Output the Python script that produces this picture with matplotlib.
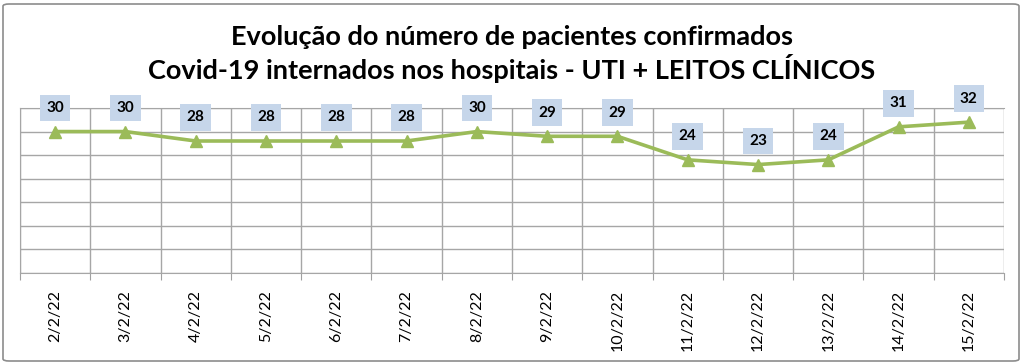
import matplotlib.pyplot as plt
from matplotlib.patches import FancyBboxPatch

# dados
datas = ['2/2/22', '3/2/22', '4/2/22', '5/2/22', '6/2/22', '7/2/22', '8/2/22',
         '9/2/22', '10/2/22', '11/2/22', '12/2/22', '13/2/22', '14/2/22', '15/2/22']
pacientes = [30, 30, 28, 28, 28, 28, 30, 29, 29, 24, 23, 24, 31, 32]

titulo = 'Evolução do número de pacientes confirmados\nCovid-19 internados nos hospitais - UTI + LEITOS CLÍNICOS'

plt.rcParams['font.family'] = ['Lato', 'DejaVu Sans']

fig = plt.figure(figsize=(10.24, 3.64), dpi=100)
ax = fig.add_axes([20 / 1024, 1 - 273 / 364, 984 / 1024, 165 / 364])

# borda arredondada do grafico
borda = FancyBboxPatch((3 / 1024, 3 / 364), 1016 / 1024, 357 / 364,
                       boxstyle='round,pad=0,rounding_size=0.006',
                       transform=fig.transFigure, fill=False,
                       edgecolor='#8c8c8c', linewidth=1.2)
fig.patches.append(borda)

x = list(range(len(datas)))
ax.plot(x, pacientes, color='#9BBB59', linewidth=2.6, marker='^',
        markersize=9, zorder=3, clip_on=False)

for xi, v in zip(x, pacientes):
    ax.annotate(str(v), (xi, v), xytext=(0, 17), textcoords='offset points',
                ha='center', va='center', fontsize=11, fontweight='bold',
                bbox=dict(boxstyle='square,pad=0.42', facecolor='#C6D6EA',
                          edgecolor='none'), zorder=4, annotation_clip=False)

ax.set_xlim(-0.5, len(datas) - 0.5)
ax.set_ylim(0, 35)
ax.set_yticks(range(0, 36, 5))
ax.set_yticklabels([])
ax.tick_params(axis='y', length=0)
ax.set_xticks([i - 0.5 for i in range(len(datas) + 1)], minor=False)
ax.set_xticklabels([])
ax.set_xticks(x, minor=True)
ax.set_xticklabels(datas, minor=True, rotation=90, fontsize=11.5)
ax.tick_params(axis='x', which='major', length=5, color='#a0a0a0')
ax.tick_params(axis='x', which='minor', length=0, pad=12)
ax.grid(True, which='major', color='#a6a6a6', linewidth=1)
for s in ax.spines.values():
    s.set_color('#a6a6a6')
ax.spines['right'].set_visible(False)

fig.text(0.5, 1 - 54 / 364, titulo, ha='center', va='center',
         fontsize=19.5, fontweight='bold', linespacing=1.2)

fig.savefig('out.png', dpi=100)
